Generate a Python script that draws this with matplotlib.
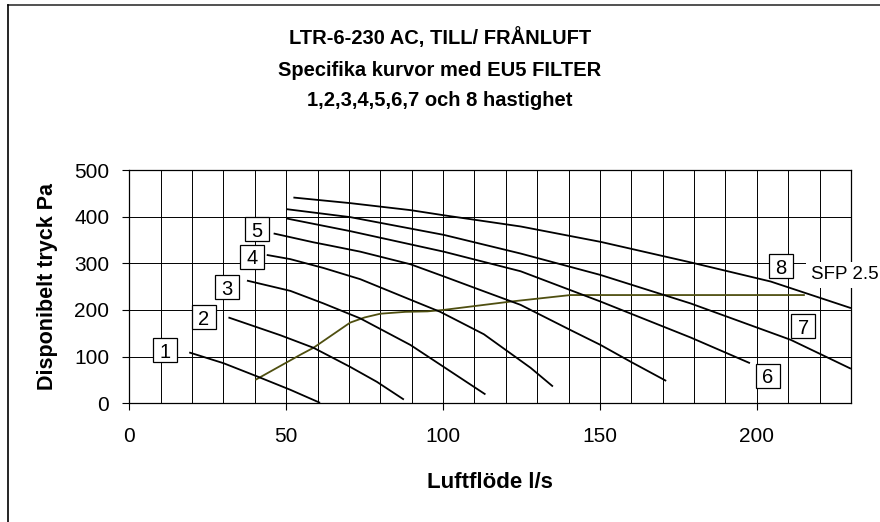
import matplotlib
matplotlib.use('Agg')
import matplotlib.pyplot as plt
from matplotlib.lines import Line2D
from matplotlib.ticker import MultipleLocator

plt.rcParams['font.family'] = ['Liberation Sans', 'DejaVu Sans']

# ---------------- data ----------------
title_lines = ['LTR-6-230 AC, TILL/ FRÅNLUFT',
               'Specifika kurvor med EU5 FILTER',
               '1,2,3,4,5,6,7 och 8 hastighet']
x_label = 'Luftflöde l/s'
y_label = 'Disponibelt tryck Pa'

c1_x = [19.1, 30, 40.6, 51.3, 60.8]
c1_y = [109, 86, 58, 29, 1]
c2_x = [31.6, 48.1, 58.7, 70.4, 78.9, 87.5]
c2_y = [184, 146, 119, 78, 46, 8]
c3_x = [37.5, 51.3, 61.9, 73.6, 89.6, 100.2, 113.5]
c3_y = [263, 241, 214, 182, 125, 78, 19]
c4_x = [43.8, 51.3, 61.9, 73.6, 89.6, 99.1, 113, 127.9, 135]
c4_y = [318, 309, 290, 266, 222, 196, 148, 76, 36]
c5_x = [46, 58.7, 64, 73.6, 89.6, 100.2, 113, 124.7, 140.6, 150.2, 159.8, 171.1]
c5_y = [364, 345, 338, 325, 298, 272, 240, 211, 157, 125, 89, 48]
c6_x = [50.2, 70.4, 100.2, 124.7, 150.2, 178.9, 197.8]
c6_y = [396, 369, 325, 283, 218, 141, 86]
c7_x = [50.2, 70.4, 100.2, 124.7, 150.2, 178.9, 210.8, 230]
c7_y = [416, 399, 361, 321, 275, 214, 136, 74]
c8_x = [52.3, 70.4, 89.6, 100.2, 124.7, 150.2, 178.9, 204.4, 230]
c8_y = [441, 429, 414, 403, 379, 346, 302, 261, 204]

sfp_x = [40.4, 54.5, 58.7, 70.4, 75, 80, 88, 95, 100, 121.5, 140.6, 215]
sfp_y = [51, 104, 119, 173, 184, 192, 196, 197, 200, 218, 232, 232]
sfp_label = 'SFP 2.5'

speed_labels = ['1', '2', '3', '4', '5', '6', '7', '8']
speed_label_x = [11.5, 23.7, 31, 39, 40.6, 203.4, 214.8, 207.6]
speed_label_y = [114, 184, 249, 314, 373, 59, 165, 294]

x_ticks = [0, 50, 100, 150, 200]
y_ticks = [0, 100, 200, 300, 400, 500]

# ---------------- figure ----------------
fig = plt.figure(figsize=(8.8, 5.22), dpi=100)
ax = fig.add_axes([129.3 / 880, 1 - 403.3 / 522, (851 - 129.3) / 880, (403.3 - 170) / 522])

ax.set_xlim(0, 230)
ax.set_ylim(0, 500)
ax.set_xticks(x_ticks)
ax.set_yticks(y_ticks)
ax.xaxis.set_minor_locator(MultipleLocator(10))
ax.tick_params(axis='x', which='major', direction='out', length=5, width=0.8,
               labelsize=15, pad=12)
ax.tick_params(axis='y', which='major', direction='out', length=5, width=0.8,
               labelsize=15, pad=9.5)
ax.tick_params(which='minor', length=0)
ax.grid(True, which='both', axis='x', color='black', linewidth=0.7)
ax.grid(True, which='major', axis='y', color='black', linewidth=0.7)
ax.set_axisbelow(True)
for s in ax.spines.values():
    s.set_color('black')
    s.set_linewidth(0.9)

curves = [(c1_x, c1_y), (c2_x, c2_y), (c3_x, c3_y), (c4_x, c4_y),
          (c5_x, c5_y), (c6_x, c6_y), (c7_x, c7_y), (c8_x, c8_y)]
for cx, cy in curves:
    ax.plot(cx, cy, color='black', linewidth=1.3, solid_capstyle='butt', zorder=3)

ax.plot(sfp_x, sfp_y, color='#4f4f10', linewidth=1.3, zorder=2.5)

# boxed speed labels
ax.plot(speed_label_x, speed_label_y, linestyle='none', marker='s', markersize=17.5,
        markerfacecolor='white', markeredgecolor='black', markeredgewidth=0.9,
        zorder=4.5, clip_on=False)
for lab, lx, ly in zip(speed_labels, speed_label_x, speed_label_y):
    ax.text(lx, ly, lab, fontsize=14.5, ha='center', va='center_baseline', zorder=5)

ax.text(228, 275, sfp_label, fontsize=13.5, ha='center', va='center', zorder=6,
        clip_on=False,
        bbox=dict(boxstyle='square,pad=0.25', facecolor='white', edgecolor='none'))

ax.set_xlabel(x_label, fontsize=16, fontweight='bold', labelpad=18.5)
ax.set_ylabel(y_label, fontsize=15.5, fontweight='bold', labelpad=11.5)

title_y = [1 - 38 / 522, 1 - 70 / 522, 1 - 101 / 522]
for t, ty in zip(title_lines, title_y):
    fig.text(0.5, ty, t, fontsize=14.5, fontweight='bold', ha='center', va='center')

# outer chart frame (top and left visible)
fig.add_artist(Line2D([8 / 880, 1.0], [1 - 5 / 522, 1 - 5 / 522],
                      transform=fig.transFigure, color='#333333', linewidth=1.2))
fig.add_artist(Line2D([8 / 880, 8 / 880], [0, 1 - 5 / 522],
                      transform=fig.transFigure, color='black', linewidth=1.2))

fig.savefig('out.png', dpi=100)
